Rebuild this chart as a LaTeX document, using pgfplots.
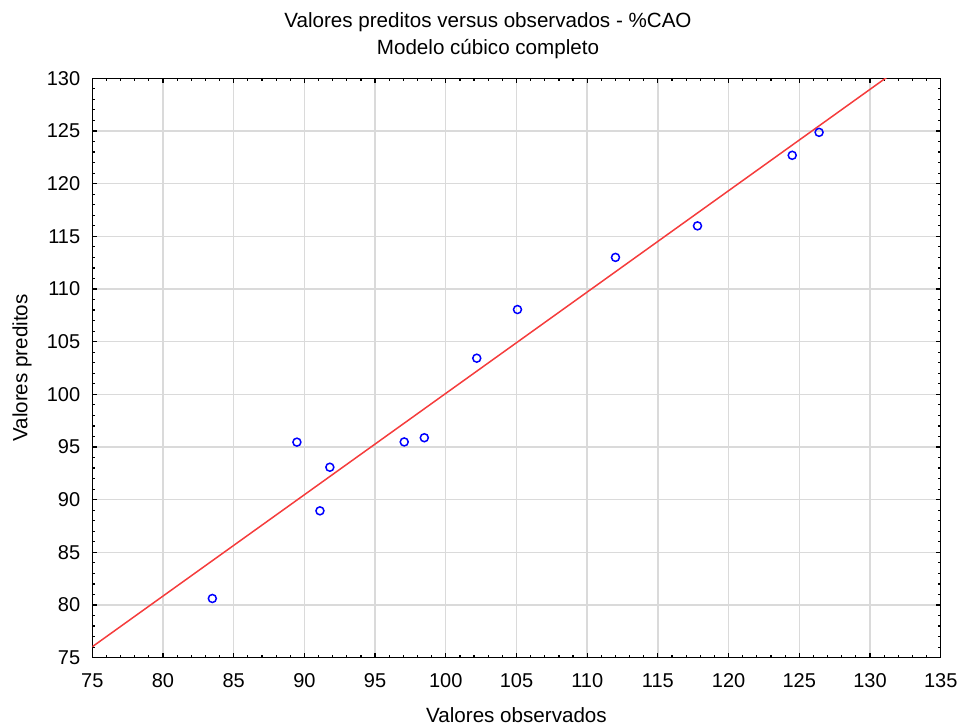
\documentclass[border=0pt]{standalone}
\usepackage{pgfplots}
\pgfplotsset{compat=1.18}
\usepackage{fontspec}
\setmainfont{Liberation Sans}

\definecolor{gridgray}{RGB}{218,218,218}
\definecolor{fitred}{RGB}{245,60,60}

\begin{document}
\begin{tikzpicture}
\useasboundingbox (-46.15pt,-34.15pt) rectangle (434.85pt,328.85pt);
\begin{axis}[
    at={(0,0)}, anchor=south west,
    scale only axis,
    width=424.2pt,
    height=289.7pt,
    xmin=75, xmax=135,
    ymin=75, ymax=130,
    xtick={75,80,...,135},
    ytick={75,80,...,130},
    minor x tick num=4,
    minor y tick num=4,
    major tick length=2.5pt,
    minor tick length=1.5pt,
    tick align=inside,
    tick style={black, line width=0.6pt},
    axis line style={black, line width=0.7pt},
    grid=major,
    grid style={gridgray, line width=0.7pt},
    /pgf/number format/assume math mode=true,
    tick label style={font=\fontsize{10}{12}\selectfont},
    xticklabel style={yshift=-4.3pt},
    yticklabel style={xshift=-2.5pt},
    xlabel={Valores observados},
    ylabel={Valores preditos},
    label style={font=\fontsize{10.3}{12}\selectfont},
    xlabel style={at={(axis description cs:0.5,0)}, anchor=base, yshift=-32.6pt},
    ylabel style={at={(axis description cs:-0.0829,0.5)}, anchor=center},
    title={Valores preditos versus observados - \%CAO\\Modelo cúbico completo},
    title style={align=center, font=\fontsize{10.3}{13.5}\selectfont,
        at={(axis description cs:0.4664,1)}, anchor=south, inner sep=0pt, yshift=3.6pt},
]
% fitted line
\addplot[fitred, line width=0.75pt] coordinates {(75,76.04) (135,133.76)};
% observed vs predicted
\addplot[only marks, mark=o, mark size=2pt, blue, mark options={line width=0.75pt}] coordinates {
    (83.49,80.62) (89.47,95.46) (91.10,88.94) (91.80,93.08)
    (97.06,95.48) (98.48,95.88) (102.19,103.43) (105.07,108.05)
    (112.00,113.00) (117.80,115.99) (124.50,122.69) (126.40,124.87)
};
\end{axis}
\end{tikzpicture}
\end{document}
